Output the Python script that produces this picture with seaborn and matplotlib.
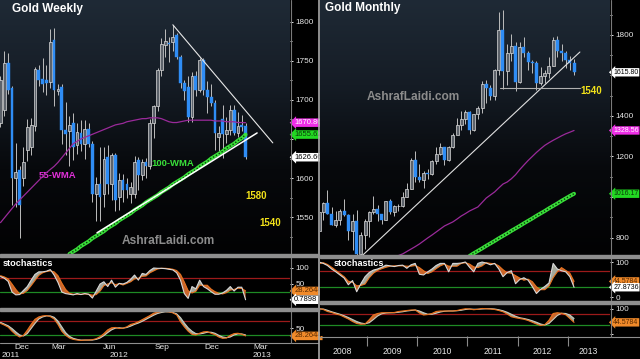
import numpy as np
import matplotlib
matplotlib.use("Agg")
import matplotlib.pyplot as plt
import matplotlib.transforms as mtransforms
from matplotlib.colors import LinearSegmentedColormap
from matplotlib.lines import Line2D
from matplotlib.patches import Rectangle
import seaborn as sns

# ---------------- Weekly data (Nov 2011 - Feb 2013) ----------------
w_open = [1670, 1687, 1747, 1715, 1600, 1610, 1600, 1636, 1640, 1666,
          1738, 1727, 1726, 1723, 1776, 1711, 1717, 1662, 1660, 1670,
          1642, 1657, 1644, 1663, 1644, 1580, 1593, 1580, 1627, 1593,
          1629, 1576, 1597, 1593, 1580, 1580, 1623, 1604, 1620, 1615,
          1670, 1692, 1738, 1770, 1773, 1774, 1783, 1755, 1722, 1716,
          1678, 1731, 1713, 1751, 1713, 1704, 1696, 1652, 1675, 1656,
          1662, 1687, 1658, 1668, 1667]
w_high = [1730, 1762, 1760, 1718, 1645, 1615, 1640, 1675, 1677, 1742,
          1745, 1753, 1745, 1790, 1792, 1720, 1720, 1697, 1680, 1683,
          1670, 1674, 1674, 1670, 1648, 1602, 1640, 1640, 1642, 1632,
          1632, 1606, 1605, 1600, 1595, 1628, 1627, 1625, 1626, 1675,
          1694, 1741, 1779, 1790, 1781, 1796, 1786, 1757, 1725, 1730,
          1736, 1737, 1754, 1754, 1724, 1720, 1700, 1667, 1694, 1678,
          1694, 1693, 1684, 1681, 1671]
w_low = [1665, 1680, 1708, 1565, 1563, 1523, 1590, 1622, 1630, 1660,
         1718, 1710, 1706, 1715, 1692, 1706, 1643, 1630, 1615, 1623,
         1631, 1634, 1625, 1640, 1570, 1545, 1545, 1563, 1580, 1572,
         1558, 1559, 1570, 1575, 1568, 1575, 1585, 1598, 1600, 1612,
         1651, 1686, 1730, 1755, 1748, 1762, 1752, 1715, 1700, 1672,
         1672, 1705, 1710, 1706, 1683, 1692, 1636, 1635, 1626, 1645,
         1655, 1655, 1652, 1660, 1625]
w_close = [1725, 1747, 1712, 1600, 1608, 1565, 1620, 1665, 1668, 1740,
           1725, 1720, 1722, 1774, 1712, 1714, 1661, 1656, 1668, 1640,
           1659, 1644, 1663, 1644, 1580, 1593, 1576, 1625, 1593, 1629,
           1572, 1597, 1585, 1585, 1588, 1620, 1604, 1620, 1616, 1670,
           1692, 1738, 1772, 1775, 1772, 1780, 1755, 1722, 1711, 1678,
           1731, 1713, 1751, 1713, 1704, 1696, 1657, 1657, 1656, 1662,
           1687, 1658, 1667, 1665, 1626.66]
w_wma55 = [1543, 1549, 1555, 1561, 1567, 1572, 1577, 1582, 1587, 1592,
           1597, 1602, 1607, 1611, 1615, 1620, 1626, 1632, 1638, 1644,
           1647, 1650, 1652, 1654, 1656, 1658, 1660, 1662, 1664, 1666,
           1668, 1669, 1670, 1672, 1673, 1674, 1675, 1676, 1676, 1677,
           1677, 1677, 1676, 1674, 1672, 1671, 1671, 1672, 1673, 1674,
           1674, 1674, 1674, 1674, 1674, 1674, 1673, 1673, 1673, 1672,
           1672, 1672, 1671, 1671, 1670.86]
w_wma100_start = 18
w_wma100 = [1503, 1506, 1509, 1513, 1516, 1519, 1523, 1526, 1529, 1532,
            1536, 1539, 1542, 1546, 1549, 1552, 1555, 1559, 1562, 1565,
            1569, 1572, 1575, 1578, 1582, 1585, 1588, 1592, 1595, 1598,
            1601, 1605, 1608, 1611, 1615, 1618, 1621, 1625, 1628, 1631,
            1634, 1638, 1641, 1644, 1648, 1651, 1655.62]
w_k1 = [73, 68, 58, 25, 16, 17, 30, 42, 62, 80,
        88, 88, 90, 95, 78, 55, 25, 20, 18, 16,
        20, 17, 20, 18, 6, 28, 50, 57, 42, 62,
        40, 52, 50, 55, 65, 78, 62, 83, 80, 92,
        100, 99, 99, 98, 96, 94, 85, 62, 20, 5,
        42, 35, 62, 42, 35, 26, 18, 18, 22, 30,
        42, 28, 40, 40, 0.7898]
w_d1 = [76, 72, 66, 50, 33, 19, 21, 30, 45, 61,
        77, 85, 89, 91, 88, 76, 53, 33, 21, 18,
        18, 18, 19, 18, 15, 17, 28, 45, 50, 54,
        48, 51, 47, 52, 57, 66, 68, 74, 75, 85,
        91, 97, 99, 99, 98, 96, 92, 80, 56, 29,
        22, 27, 46, 46, 46, 34, 26, 21, 19, 23,
        31, 33, 37, 36, 28.2644]
w_k2 = [65, 60, 54, 42, 32, 25, 30, 45, 62, 77,
        84, 87, 88, 85, 78, 62, 42, 30, 22, 18,
        16, 15, 16, 16, 17, 20, 26, 35, 46, 52,
        53, 50, 51, 55, 62, 65, 70, 76, 82, 88,
        95, 98, 100, 100, 99, 96, 90, 70, 55, 42,
        33, 31, 36, 40, 41, 36, 32, 25, 21, 22,
        30, 35, 36, 33, 28.2644]
w_d2 = [68, 63, 58, 50, 40, 31, 28, 35, 50, 65,
        78, 84, 87, 87, 83, 72, 55, 38, 27, 21,
        18, 16, 16, 16, 16, 18, 22, 29, 38, 46,
        51, 52, 51, 53, 57, 62, 66, 71, 77, 83,
        89, 94, 97, 99, 99, 97, 93, 82, 66, 52,
        42, 35, 34, 36, 39, 39, 36, 30, 25, 23,
        25, 31, 34, 34, 31]
w_support_x = [25.2, 67.0]
w_support_y = [1530, 1657.7]
w_resist_x = [45.0, 71.1]
w_resist_y = [1796, 1645]
w_month_pos = [5.6, 15.3, 28.6, 42.2, 55.2, 68.0]
w_month_lbl = ["Dec", "Mar", "Jun", "Sep", "Dec", "Mar"]
w_year_pos = [2.6, 30.9, 68.3]
w_year_lbl = ["2011", "2012", "2013"]

# ---------------- Monthly data (Jan 2008 - Feb 2013) ----------------
m_open = [834, 924, 972, 916, 864, 886, 930, 912, 833, 880, 717, 814,
          882, 927, 942, 916, 884, 979, 926, 954, 955, 1001, 1040, 1182,
          1097, 1083, 1118, 1113, 1180, 1213, 1245, 1181, 1248, 1307, 1357, 1386,
          1421, 1333, 1410, 1439, 1556, 1536, 1500, 1628, 1826, 1620, 1713, 1746,
          1566, 1740, 1710, 1669, 1664, 1563, 1597, 1614, 1648, 1773, 1719, 1712,
          1675, 1663]
m_high = [930, 975, 1033, 950, 930, 940, 988, 918, 916, 935, 827, 890,
          932, 1006, 962, 916, 980, 990, 960, 965, 1024, 1070, 1195, 1227,
          1162, 1128, 1137, 1184, 1249, 1265, 1245, 1250, 1315, 1388, 1424, 1432,
          1424, 1411, 1447, 1575, 1577, 1552, 1632, 1913, 1921, 1755, 1804, 1764,
          1764, 1791, 1720, 1677, 1672, 1640, 1626, 1693, 1790, 1796, 1754, 1723,
          1694, 1681]
m_low = [832, 885, 914, 860, 851, 860, 907, 786, 736, 681, 705, 745,
         802, 917, 880, 865, 884, 915, 905, 930, 952, 1001, 1038, 1075,
         1073, 1044, 1087, 1111, 1164, 1208, 1156, 1176, 1243, 1315, 1330, 1360,
         1309, 1324, 1383, 1416, 1462, 1477, 1478, 1602, 1532, 1555, 1670, 1522,
         1564, 1690, 1627, 1613, 1527, 1555, 1564, 1588, 1645, 1692, 1672, 1635,
         1626, 1603]
m_close = [924, 972, 916, 864, 886, 930, 912, 833, 880, 717, 814, 882,
           927, 942, 916, 884, 979, 926, 954, 955, 1001, 1040, 1182, 1097,
           1083, 1118, 1113, 1180, 1213, 1245, 1181, 1248, 1307, 1357, 1386, 1421,
           1333, 1410, 1439, 1556, 1536, 1500, 1628, 1826, 1620, 1713, 1746, 1566,
           1740, 1710, 1669, 1664, 1563, 1597, 1614, 1648, 1773, 1719, 1712, 1675,
           1663, 1615.80]
m_ma55_start = 16
m_ma55 = [690, 697, 704, 711, 719, 731, 743, 755, 768, 783, 798, 812,
          827, 842, 857, 867, 877, 891, 906, 918, 931, 941, 951, 973,
          995, 1010, 1025, 1045, 1064, 1074, 1090, 1110, 1135, 1158, 1180, 1200,
          1220, 1238, 1255, 1268, 1280, 1291, 1302, 1312, 1320, 1328.56]
m_ma100_start = 36
m_ma100 = [709, 722, 734, 746, 759, 771, 783, 796, 808, 820, 833, 845,
           857, 870, 882, 894, 907, 919, 931, 944, 956, 968, 981, 993,
           1005, 1016.17]
m_k1 = [100, 96, 90, 80, 72, 63, 54, 35, 47, 15,
        38, 58, 70, 77, 80, 85, 91, 89, 87, 90,
        91, 82, 92, 96, 65, 63, 72, 80, 90, 96,
        96, 72, 96, 96, 97, 100, 85, 72, 96, 100,
        97, 92, 96, 80, 58, 70, 75, 38, 50, 55,
        48, 30, 10, 22, 30, 40, 96, 80, 75, 72,
        58, 27.8736]
m_d1 = [95, 98, 93, 85, 76, 67, 58, 45, 42, 32,
        33, 37, 55, 68, 76, 81, 85, 88, 89, 89,
        89, 88, 88, 90, 84, 75, 67, 72, 81, 89,
        94, 88, 88, 88, 96, 98, 94, 86, 84, 89,
        98, 96, 95, 89, 78, 69, 68, 61, 54, 48,
        51, 44, 29, 21, 21, 31, 55, 72, 84, 76,
        68, 44.5784]
m_k2 = [100, 96, 88, 84, 78, 74, 66, 58, 48, 40,
        37, 38, 55, 74, 80, 83, 83, 83, 84, 88,
        90, 92, 94, 94, 82, 74, 76, 80, 88, 90,
        90, 90, 90, 92, 96, 99, 98, 95, 97, 100,
        99, 98, 96, 92, 87, 78, 67, 63, 60, 57,
        52, 45, 38, 32, 35, 53, 80, 83, 81, 75,
        60, 44.5784]
m_d2 = [98, 98, 93, 87, 82, 77, 71, 64, 56, 48,
        42, 39, 43, 56, 70, 79, 82, 83, 83, 85,
        87, 90, 92, 94, 90, 83, 77, 77, 81, 86,
        89, 90, 90, 91, 93, 96, 98, 97, 97, 98,
        99, 99, 98, 95, 91, 85, 77, 69, 63, 60,
        56, 51, 45, 38, 34, 40, 56, 72, 81, 80,
        74, 60]
m_trend_x = [10.5, 62.4]
m_trend_y = [714, 1716]
m_flat_x = [43.3, 62.4]
m_flat_y = [1540, 1540]
m_year_pos = [5.5, 17.5, 29.5, 41.5, 53.5, 64.5]
m_year_lbl = ["2008", "2009", "2010", "2011", "2012", "2013"]
m_year_sep = [11.5, 23.5, 35.5, 47.5, 59.5]

# ---------------- style ----------------
sns.set_style("dark")
plt.rcParams['font.family'] = ['Liberation Sans', 'DejaVu Sans']
plt.rcParams['axes.edgecolor'] = 'black'

W, H = 640, 359
fig = plt.figure(figsize=(6.4, 3.59), dpi=100, facecolor='black')

TXT = '#e6e6e6'
BLUE = '#2f8df5'
GRN = '#39e039'
ORG = '#e8731f'
YEL = '#f2e21a'
grad_cmap = LinearSegmentedColormap.from_list('bg', ['#1f2a36', '#151c25', '#07090c', '#020203'])


def px_ax(x0, y0, x1, y1):
    ax = fig.add_axes([x0 / W, 1 - y1 / H, (x1 - x0) / W, (y1 - y0) / H])
    ax.set_facecolor('black')
    for s in ax.spines.values():
        s.set_visible(False)
    ax.grid(False)
    ax.yaxis.tick_right()
    ax.tick_params(axis='y', which='both', colors=TXT, labelsize=5.9, direction='out', pad=1.2, width=0.7)
    ax.tick_params(axis='y', which='major', length=2.5)
    ax.tick_params(axis='y', which='minor', length=1.5)
    ax.tick_params(axis='x', which='both', bottom=False, labelbottom=False)
    return ax


def gradient(ax):
    ax.imshow(np.linspace(0, 1, 256).reshape(-1, 1), cmap=grad_cmap, extent=[0, 1, 0, 1],
              transform=ax.transAxes, aspect='auto', zorder=0, interpolation='bilinear')


def candles(ax, o, h, l, c, width):
    o, h, l, c = map(np.asarray, (o, h, l, c))
    x = np.arange(len(o))
    up = c >= o
    ax.vlines(x, l, h, color='#bdbdbd', lw=0.7, zorder=2)
    ax.bar(x[up], (c - o)[up], bottom=o[up], width=width, color='#5d636b',
           edgecolor='#dcdcdc', linewidth=0.5, zorder=3)
    ax.bar(x[~up], (c - o)[~up], bottom=o[~up], width=width, color=BLUE,
           edgecolor=BLUE, linewidth=0.3, zorder=3)


def tag(ax, val, text, fc, tc, dx=2.4, fs=5.0):
    tr = mtransforms.blended_transform_factory(ax.transAxes, ax.transData)
    ax.annotate(text, xy=(1.0, val), xycoords=tr, xytext=(dx, 0), textcoords='offset points',
                ha='left', va='center', fontsize=fs, color=tc, zorder=10,
                annotation_clip=False,
                bbox=dict(boxstyle='larrow,pad=0.1', fc=fc, ec='none'))


def stoch(ax, k, d, red, green, up_col, dn_col, kcol, dcol):
    k = np.asarray(k, float)
    d = np.asarray(d, float)
    x = np.arange(len(k))
    ax.axhline(red, color='#9c1a1a', lw=0.9, zorder=1)
    ax.axhline(green, color='#1e8a24', lw=0.9, zorder=1)
    ax.fill_between(x, k, d, where=k >= d, interpolate=True, color=up_col, lw=0, zorder=2)
    ax.fill_between(x, k, d, where=k < d, interpolate=True, color=dn_col, lw=0, zorder=2)
    sns.lineplot(x=x, y=d, ax=ax, color=dcol, lw=0.8, zorder=3)
    sns.lineplot(x=x, y=k, ax=ax, color=kcol, lw=0.8, zorder=3)
    ax.set_xlabel('')
    ax.set_ylabel('')


def ptxt(ax, xf, yf, s, **kw):
    ax.text(xf, yf, s, transform=ax.transAxes, **kw)


# ================= LEFT: Gold Weekly =================
axL = px_ax(0, 0, 290, 254)
gradient(axL)
candles(axL, w_open, w_high, w_low, w_close, 0.72)
nW = len(w_open)
sns.lineplot(x=np.arange(nW), y=w_wma55, ax=axL, color='#9a2a9a', lw=0.9, zorder=4)
xg = np.arange(w_wma100_start, w_wma100_start + len(w_wma100))
sns.lineplot(x=xg, y=w_wma100, ax=axL, color=GRN, lw=2.8, zorder=4)
axL.plot(xg, w_wma100, color='#0c3a0c', lw=1.0, ls=(0, (1, 1.4)), zorder=5)
axL.plot(w_support_x, w_support_y, color='white', lw=1.1, zorder=5)
axL.plot(w_resist_x, w_resist_y, color='#e8e8e8', lw=0.8, zorder=5)
axL.set_xlim(-0.13, 75.59)
axL.set_ylim(1502.9, 1827.7)
axL.set_xlabel('')
axL.set_ylabel('')
axL.set_yticks([1550, 1600, 1650, 1700, 1750, 1800])
axL.set_yticklabels(['1550', '1600', '', '1700', '1750', '1800'])
axL.set_yticks([1525, 1575, 1625, 1675, 1725, 1775], minor=True)
tag(axL, 1670.86, '1670.86', '#ee2ee6', 'white', dx=3.0, fs=5.5)
tag(axL, 1655.62, '1655.62', '#22d822', '#0a3a0a', dx=3.0, fs=5.5)
tag(axL, 1626.66, '1626.66', 'white', 'black', dx=3.0, fs=5.5)
ptxt(axL, 12 / 290, 1 - 9 / 254, 'Gold Weekly', color='white', fontsize=8.5, fontweight='bold', ha='left', va='center')
ptxt(axL, 57 / 290, 1 - 175 / 254, '55-WMA', color='#e030d8', fontsize=6.8, fontweight='bold', ha='center', va='center')
ptxt(axL, 173 / 290, 1 - 164 / 254, '100-WMA', color=GRN, fontsize=6.8, fontweight='bold', ha='center', va='center')
ptxt(axL, 256 / 290, 1 - 196 / 254, '1580', color=YEL, fontsize=7, fontweight='bold', ha='center', va='center')
ptxt(axL, 270 / 290, 1 - 223 / 254, '1540', color=YEL, fontsize=7, fontweight='bold', ha='center', va='center')
ptxt(axL, 168 / 290, 1 - 241 / 254, 'AshrafLaidi.com', color='#8c8c8c', fontsize=8.6, fontweight='bold', ha='center', va='center', zorder=6)

axLs1 = px_ax(0, 256, 290, 308)
stoch(axLs1, w_k1, w_d1, 68.75, 25, '#a4a89c', '#c9662c', '#d8d8d8', ORG)
axLs1.set_xlim(-0.13, 75.59)
axLs1.set_ylim(-25, 137.5)
axLs1.set_yticks([50, 100])
tag(axLs1, 28.2644, '28.2644', '#f08a2a', '#5a2a00', dx=3.0, fs=5.5)
tag(axLs1, 0.7898, '0.7898', 'white', 'black', dx=3.0, fs=5.5)
ptxt(axLs1, 3 / 290, 1 - 7 / 52, 'stochastics', color='white', fontsize=6.6, fontweight='bold', ha='left', va='center')

axLs2 = px_ax(0, 310, 290, 342)
stoch(axLs2, w_k2, w_d2, 72, 31, '#c9662c', '#a4a89c', ORG, '#c8ccc0')
axLs2.set_xlim(-0.13, 75.59)
axLs2.set_ylim(10.3, 104.4)
axLs2.set_yticks([50, 100])
axLs2.set_yticklabels(['50', ''])
tag(axLs2, 28.2644, '28.2644', '#f08a2a', '#5a2a00', dx=3.0, fs=5.5)
trL = mtransforms.blended_transform_factory(axLs2.transData, axLs2.transAxes)
for p, s in zip(w_month_pos, w_month_lbl):
    axLs2.annotate(s, xy=(p, 0), xycoords=trL, xytext=(0, -4.0), textcoords='offset points',
                   ha='center', va='center', color=TXT, fontsize=6.0, annotation_clip=False)
for p, s in zip(w_year_pos, w_year_lbl):
    axLs2.annotate(s, xy=(p, 0), xycoords=trL, xytext=(0, -9.6), textcoords='offset points',
                   ha='center', va='center', color=TXT, fontsize=6.0, annotation_clip=False)

# ================= RIGHT: Gold Monthly =================
axR = px_ax(320, 0, 610, 255)
gradient(axR)
candles(axR, m_open, m_high, m_low, m_close, 0.72)
xm = np.arange(m_ma55_start, m_ma55_start + len(m_ma55))
sns.lineplot(x=xm, y=m_ma55, ax=axR, color='#9a2a9a', lw=0.9, zorder=4)
xg2 = np.arange(m_ma100_start, m_ma100_start + len(m_ma100))
sns.lineplot(x=xg2, y=m_ma100, ax=axR, color=GRN, lw=2.8, zorder=4)
axR.plot(xg2, m_ma100, color='#0c3a0c', lw=1.0, ls=(0, (1, 1.4)), zorder=5)
axR.plot(m_trend_x, m_trend_y, color='#e0e0e0', lw=0.8, zorder=5)
axR.plot(m_flat_x, m_flat_y, color='#b0b0b0', lw=0.8, zorder=5)
axR.set_xlim(0.22, 69.6)
axR.set_ylim(713.6, 1972.8)
axR.set_xlabel('')
axR.set_ylabel('')
axR.set_yticks([800, 1000, 1200, 1400, 1600, 1800])
axR.set_yticklabels(['800', '', '1200', '1400', '', '1800'])
axR.set_yticks([900, 1100, 1300, 1500, 1700, 1900], minor=True)
tag(axR, 1615.80, '1615.80', 'white', 'black')
tag(axR, 1328.56, '1328.56', '#ee2ee6', 'white')
tag(axR, 1016.17, '1016.17', '#22d822', '#0a3a0a')
ptxt(axR, 5 / 290, 1 - 8 / 255, 'Gold Monthly', color='white', fontsize=8.5, fontweight='bold', ha='left', va='center')
ptxt(axR, 93 / 290, 1 - 97 / 255, 'AshrafLaidi.com', color='#8c8c8c', fontsize=8.6, fontweight='bold', ha='center', va='center', zorder=6)
ptxt(axR, 271 / 290, 1 - 91 / 255, '1540', color=YEL, fontsize=7, fontweight='bold', ha='center', va='center')

axRs1 = px_ax(320, 257, 610, 301)
stoch(axRs1, m_k1, m_d1, 74, 28.6, '#a4a89c', '#c9662c', '#d8d8d8', ORG)
axRs1.set_xlim(0.22, 69.6)
axRs1.set_ylim(-11.4, 114.3)
axRs1.set_yticks([0, 100])
tag(axRs1, 44.5784, '44.5784', '#f08a2a', '#5a2a00')
tag(axRs1, 27.8736, '27.8736', 'white', 'black')
ptxt(axRs1, 14 / 290, 1 - 7 / 44, 'stochastics', color='white', fontsize=6.6, fontweight='bold', ha='left', va='center')

axRs2 = px_ax(320, 303, 610, 336)
stoch(axRs2, m_k2, m_d2, 78, 34, '#c9662c', '#a4a89c', ORG, '#c8ccc0')
axRs2.set_xlim(0.22, 69.6)
axRs2.set_ylim(-10, 122)
axRs2.set_yticks([0, 100])
axRs2.set_yticklabels(['', '100'])
tag(axRs2, 44.5784, '44.5784', '#f08a2a', '#5a2a00')
axRs2.set_xticks(m_year_sep, minor=True)
axRs2.tick_params(axis='x', which='minor', bottom=True, length=7, width=0.8, color='#8a8a8a', direction='out')
trR = mtransforms.blended_transform_factory(axRs2.transData, axRs2.transAxes)
for p, s in zip(m_year_pos, m_year_lbl):
    axRs2.annotate(s, xy=(p, 0), xycoords=trR, xytext=(0, -11.5), textcoords='offset points',
                   ha='center', va='center', color=TXT, fontsize=6.2, annotation_clip=False)

# ---------------- panel separators ----------------
def frect(x0, y0, x1, y1, color):
    fig.patches.append(Rectangle((x0 / W, 1 - y1 / H), (x1 - x0) / W, (y1 - y0) / H,
                                 transform=fig.transFigure, color=color, zorder=5))

def fline(x0, y0, x1, y1, color, lw):
    fig.lines.append(Line2D([x0 / W, x1 / W], [1 - y0 / H, 1 - y1 / H], transform=fig.transFigure,
                            color=color, lw=lw, zorder=5))

frect(0, 254, 319, 256.5, '#8e8e8e')
frect(0, 308, 319, 310.5, '#8e8e8e')
frect(320, 255, 640, 257.5, '#8e8e8e')
frect(320, 301, 640, 303.5, '#8e8e8e')
fline(0, 342.5, 318, 342.5, '#8e8e8e', 0.8)
fline(320, 336.5, 640, 336.5, '#8e8e8e', 0.8)
fline(290.5, 0, 290.5, 343, '#7a7a7a', 0.8)
fline(610.5, 0, 610.5, 337, '#7a7a7a', 0.8)
fline(319.2, 0, 319.2, 359, '#a8a8a8', 1.2)

fig.savefig('out.png', dpi=100, facecolor='black')
